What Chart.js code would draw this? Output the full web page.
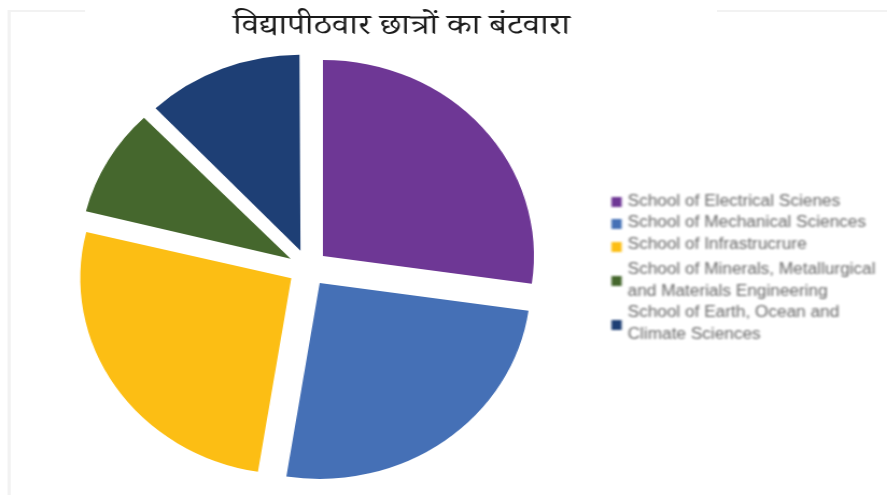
<!DOCTYPE html>
<html lang="hi">
<head>
<meta charset="UTF-8">
<title>विद्यापीठवार छात्रों का बंटवारा</title>
<script src="https://cdn.jsdelivr.net/npm/chart.js"></script>
<style>
    body {
        margin: 0;
        padding: 0;
        background: #ffffff;
    }
    /* chart is drawn a bit narrower and stretched to the page width */
    #schoolChart {
        display: block;
        width: 887px !important;
        height: 495px !important;
    }
</style>
</head>
<body>
<canvas id="schoolChart" width="824" height="495"></canvas>

<script>
// students per school (share of total)
var schools = [
    'School of Electrical Scienes',
    'School of Mechanical Sciences',
    'School of Infrastrucrure',
    'School of Minerals, Metallurgical and Materials Engineering',
    'School of Earth, Ocean and Climate Sciences'
];
// legend text, wrapped the way it is shown
var legendLines = [
    ['School of Electrical Scienes'],
    ['School of Mechanical Sciences'],
    ['School of Infrastrucrure'],
    ['School of Minerals, Metallurgical', 'and Materials Engineering'],
    ['School of Earth, Ocean and', 'Climate Sciences']
];
var students = [27, 25, 26, 9, 12];
var colors = ['#6e3795', '#4570b6', '#fcbe14', '#45672d', '#1e3f75'];

var chartTitle = 'विद्यापीठवार छात्रों का बंटवारा';

// faint frame left over from the slide box
var framePlugin = {
    id: 'frame',
    beforeDraw: function(chart) {
        var ctx = chart.ctx;
        ctx.save();
        ctx.fillStyle = '#f2f2f2';
        ctx.fillRect(7, 10, 72, 2);
        ctx.fillRect(666, 10, 160, 2);
        ctx.fillRect(7, 10, 3, 485);
        ctx.restore();
    }
};

// exploded slices keep the same radius (chart.js grows thin slices by their offset)
var evenExplodePlugin = {
    id: 'evenExplode',
    beforeDatasetsDraw: function(chart) {
        var meta = chart.getDatasetMeta(0);
        var base = meta.controller.outerRadius;
        meta.data.forEach(function(arc) {
            var off = (arc.options.offset || 0) / 4;
            var fix = 1 - Math.sin(Math.min(Math.PI, arc.circumference || 0));
            arc.outerRadius = base - off * fix;
        });
    }
};

// title drawn over the pie, fitted to its width
var titlePlugin = {
    id: 'hindiTitle',
    afterDraw: function(chart) {
        var ctx = chart.ctx;
        ctx.save();
        ctx.font = '28px "Noto Serif Devanagari", "Noto Sans Devanagari", "Lohit Devanagari", "FreeSerif", serif';
        ctx.fillStyle = '#1a1a1a';
        ctx.textBaseline = 'middle';
        ctx.textAlign = 'center';
        var w = ctx.measureText(chartTitle).width;
        var target = 313;
        ctx.translate(373, 31);
        if (w > 0) ctx.scale(target / w, 1);
        ctx.fillText(chartTitle, 0, 0);
        ctx.restore();
    }
};

// legend on the right, box centred on its (possibly two-line) text
var legendPlugin = {
    id: 'sideLegend',
    afterDraw: function(chart) {
        var ctx = chart.ctx;
        var rows = [
            { box: 202, lines: [202] },
            { box: 224, lines: [223] },
            { box: 247, lines: [245] },
            { box: 281, lines: [270, 292] },
            { box: 325, lines: [313, 335] }
        ];
        ctx.save();
        ctx.filter = 'blur(0.8px)';
        ctx.font = '16px "Liberation Sans", Arial, sans-serif';
        ctx.textBaseline = 'middle';
        ctx.textAlign = 'left';
        for (var i = 0; i < legendLines.length; i++) {
            ctx.fillStyle = colors[i];
            ctx.fillRect(568, rows[i].box - 5, 9.5, 10);
            ctx.fillStyle = '#666666';
            for (var j = 0; j < legendLines[i].length; j++) {
                ctx.fillText(legendLines[i][j], 583, rows[i].lines[j]);
            }
        }
        ctx.restore();
    }
};

new Chart(document.getElementById('schoolChart'), {
    type: 'pie',
    data: {
        labels: schools,
        datasets: [{
            data: students,
            backgroundColor: colors,
            borderWidth: 0,
            offset: 74,
            hoverOffset: 74,
            radius: 196
        }]
    },
    options: {
        responsive: false,
        animation: false,
        events: [],
        layout: {
            padding: { left: 0, right: 252, top: 41, bottom: 0 }
        },
        plugins: {
            legend: { display: false },
            title: { display: false },
            tooltip: { enabled: false }
        }
    },
    plugins: [framePlugin, evenExplodePlugin, titlePlugin, legendPlugin]
});
</script>
</body>
</html>
